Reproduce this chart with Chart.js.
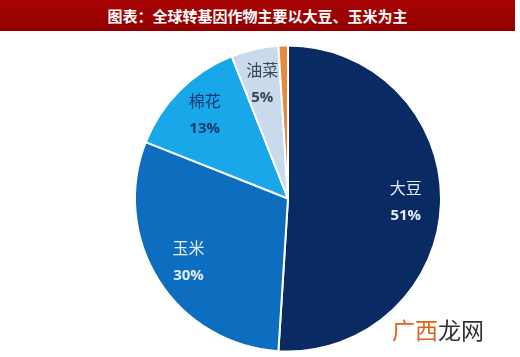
<!doctype html>
<html lang="zh">
<head>
<meta charset="utf-8">
<title>全球转基因作物</title>
<script src="https://cdn.jsdelivr.net/npm/chart.js@4.4.0/dist/chart.umd.min.js"></script>
<style>
  body { margin: 0; background: #fff; }
  #wrap { position: relative; width: 520px; height: 357px; overflow: hidden; }
  #title {
    position: absolute; left: 0; top: 0; width: 515px; height: 31px;
    background: linear-gradient(#a80404, #920000);
    color: #fff; font: bold 15px "Noto Sans CJK SC", sans-serif;
    text-align: center; line-height: 31px; z-index: 2;
  }
  #mark {
    position: absolute; left: 392px; top: 312px; z-index: 2;
    font: 23px "Noto Sans CJK SC", sans-serif; color: #333;
  }
  #mark span { color: #e0621c; }
  canvas { position: absolute; left: 0; top: 0; }
</style>
</head>
<body>
<div id="wrap">
  <div id="title">图表：全球转基因作物主要以大豆、玉米为主</div>
  <canvas id="pie" width="520" height="357"></canvas>
  <div id="mark"><span>广西</span>龙网</div>
</div>
<script>
// crop shares, %
const crops = ['大豆', '玉米', '棉花', '油菜', '其他'];
const shares = [51, 30, 13, 5, 1];
const sliceColors = ['#0a2a63', '#0d6dbe', '#18a7e9', '#c8daec', '#e8893c'];
const labelColors = ['#e6ecf5', '#e3eef9', '#123a72', '#3a4656', null];

// write name + percent inside each slice
const sliceLabels = {
  id: 'sliceLabels',
  afterDatasetsDraw(chart) {
    const ctx = chart.ctx;
    const arcs = chart.getDatasetMeta(0).data;
    arcs.forEach((arc, i) => {
      if (!labelColors[i]) return;
      const p = arc.getProps(['x', 'y', 'startAngle', 'endAngle', 'outerRadius']);
      const mid = (p.startAngle + p.endAngle) / 2;
      const r = p.outerRadius * 0.77;
      const x = p.x + Math.cos(mid) * r;
      const y = p.y + Math.sin(mid) * r;
      ctx.save();
      ctx.fillStyle = labelColors[i];
      ctx.textAlign = 'center';
      ctx.textBaseline = 'middle';
      ctx.font = '16px "Noto Sans CJK SC", sans-serif';
      ctx.fillText(crops[i], x, y - 14);
      ctx.font = 'bold 15px "Open Sans", sans-serif';
      ctx.fillText(shares[i] + '%', x, y + 14);
      ctx.restore();
    });
  }
};

new Chart(document.getElementById('pie'), {
  type: 'pie',
  data: {
    labels: crops,
    datasets: [{
      data: shares,
      backgroundColor: sliceColors,
      borderColor: '#ffffff',
      borderWidth: 2
    }]
  },
  options: {
    responsive: false,
    animation: false,
    layout: { padding: { top: 44, bottom: 4, left: 134, right: 78 } },
    plugins: { legend: { display: false }, tooltip: { enabled: false } }
  },
  plugins: [sliceLabels]
});
</script>
</body>
</html>
